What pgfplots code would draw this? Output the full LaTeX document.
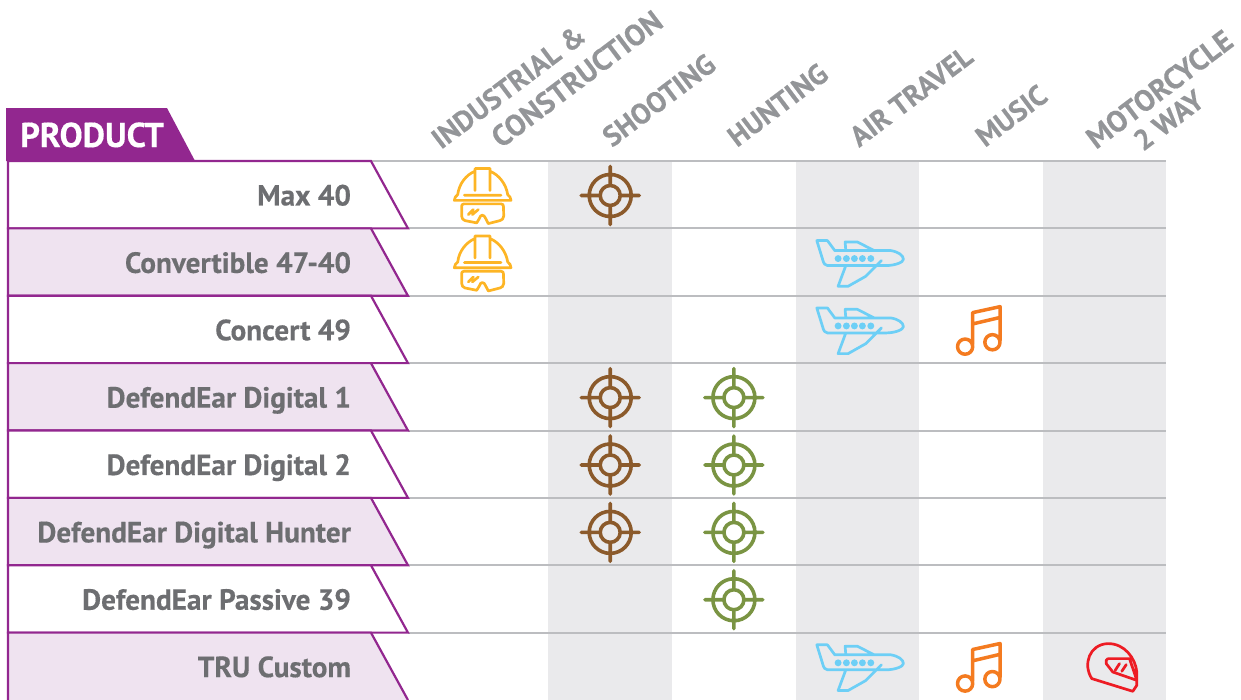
\documentclass[border=0pt]{standalone}
\usepackage{pgfplots}
\pgfplotsset{compat=1.18}
\usepackage{fontspec}
\setmainfont[BoldFeatures={FakeBold=0.35}]{PT Sans}
\definecolor{purp}{HTML}{92278F}
\definecolor{lilac}{HTML}{EFE3F0}
\definecolor{band}{HTML}{EAEAEC}
\definecolor{rowtext}{HTML}{6D6E71}
\definecolor{coltext}{HTML}{939598}
\definecolor{rule}{HTML}{BCBDC0}
\definecolor{hat}{HTML}{FDB525}
\definecolor{brown}{HTML}{8B5A2B}
\definecolor{olive}{HTML}{7A9443}
\definecolor{sky}{HTML}{6DCFF6}
\definecolor{orng}{HTML}{F47B20}
\definecolor{redh}{HTML}{ED1C24}
\pgfdeclareplotmark{target}{%
  \draw[x=1pt,y=-1pt,line cap=round] (0.5,0.8) circle[radius=21pt] (0.5,0.8) circle[radius=10pt]
    (-28.5,0.8)--(-9.5,0.8) (10.5,0.8)--(29.5,0.8) (0.5,-28.2)--(0.5,-9.2) (0.5,10.8)--(0.5,29.8);}
\pgfdeclareplotmark{hardhat}{%
  \draw[x=1pt,y=-1pt,line cap=round,line join=round]
    (-31.7,5.7) .. controls (-31.7,3.2) and (-30,1.2) .. (-28.3,-0.1)
      .. controls (-27,-10.8) and (-20,-19.8) .. (-11,-23.5) -- (-11,-26.1) -- (4,-26.1) -- (4,-23.5)
      .. controls (13,-19.8) and (20,-10.8) .. (21.7,-0.1)
      .. controls (23.5,1.2) and (25,3.2) .. (25,5.7) -- cycle
    (-11,-23.5) -- (-11,-4.1) (4,-23.5) -- (4,-4.1) (-21.7,0.5) -- (15,0.5)
    (-22,9.2) -- (15,9.2) .. controls (17,9.2) and (17.5,10.2) .. (17.5,12.2) -- (17.7,21.5)
      .. controls (17.5,24.2) and (16,25.2) .. (14,25.9) -- (2.3,28.9) -- (-0.3,23.9)
      .. controls (-1,21.7) and (-2.5,20.5) .. (-3.7,20.5)
      .. controls (-5,20.5) and (-6,21.7) .. (-6.7,23.9) -- (-9.3,28.2) -- (-21,25.9)
      .. controls (-23,25.2) and (-24.3,23.7) .. (-24.3,21.5) -- (-24.3,11.2)
      .. controls (-24.3,10.2) and (-23.5,9.2) .. (-22,9.2) -- cycle
    (-17.7,19.9) -- (-12.7,14.9) (-13.7,19.9) -- (-7.7,14.9);}
\pgfdeclareplotmark{plane}{%
  \draw[x=1pt,y=-1pt,line cap=round,line join=round]
    (-40.3,-21.5) -- (-29.7,-21.5) -- (-22.3,-11.5) -- (33.7,-11.5)
      .. controls (41,-10.3) and (46.3,-6.8) .. (46.3,-2.8)
      .. controls (46.3,0.2) and (38,3.5) .. (28.7,3.5) -- (-29.7,3.5)
      .. controls (-32,3.2) and (-33.5,1.2) .. (-33.7,-0.1) -- cycle
    (-11.3,-11.5) -- (-12,-20.1) -- (0.3,-20.1) -- (17,-11.5)
    (-11.3,3.5) -- (-19,24.2) -- (-9,24.2) -- (8.7,14.2) -- (24.3,-1.5);
  \fill[x=1pt,y=-1pt] (-19,-3.5) circle[radius=2pt] (-10.7,-3.5) circle[radius=2pt]
    (-2.7,-3.5) circle[radius=2pt] (5.3,-3.5) circle[radius=2pt] (13.7,-3.5) circle[radius=2pt];}
\pgfdeclareplotmark{note}{%
  \draw[x=1pt,y=-1pt,line cap=round,line join=round]
    (-15.7,17.2) circle[radius=7.6pt] (11.6,12.8) circle[radius=7.6pt]
    (-8.2,15) -- (-8.2,-16.8) -- (19.3,-22.8) -- (19.3,11)
    (-8.2,-5.5) -- (19.3,-12);}
\pgfdeclareplotmark{moto}{%
  \draw[x=1pt,y=-1pt,line cap=round,line join=round]
    (-12.7,12.3) .. controls (-22,-2) and (-15,-22) .. (3.3,-22.7)
      .. controls (20,-23) and (31,-8) .. (32.3,5.7) -- (32.3,19) -- (28.3,25) -- cycle
    (3.5,-7.7) -- (25,-7.7) -- (32.3,14) -- (8.3,5.7) -- (1.7,-2.7)
      .. controls (1.2,-5) and (1.7,-7.7) .. (3.5,-7.7)
    (10.7,4) -- (15,-2.7) (17.3,5) -- (21.7,-1.7);}
\pgfplotstableread{
col row
0 1
0 2
}\hardhatdata
\pgfplotstableread{
col row
1 1
1 4
1 5
1 6
}\shootdata
\pgfplotstableread{
col row
2 4
2 5
2 6
2 7
}\huntdata
\pgfplotstableread{
col row
3 2
3 3
3 8
}\airdata
\pgfplotstableread{
col row
4 3
4 8
}\musicdata
\pgfplotstableread{
col row
5 8
}\motodata
\newcommand\collabel[4][28.7]{\node[rotate=37,anchor=base west,text=coltext,inner sep=0pt,
  font=\fontsize{#1}{30}\selectfont\bfseries] at (axis cs:{(#2-486)/123.7},{(#3-161)/67.375+0.5}) {#4};}
\begin{document}
\begin{tikzpicture}
\useasboundingbox (0,0) rectangle (1241pt,700pt);
\begin{axis}[
  at={(424.15pt,0pt)}, anchor=south west,
  scale only axis, width=742.2pt, height=539pt,
  xmin=-0.5, xmax=5.5, ymin=0.5, ymax=8.5, y dir=reverse,
  clip=false, axis on top=true,
  axis line style={draw=none}, tick style={draw=none},
  xtick=\empty,
  ytick={1,...,8},
  yticklabels={Max 40,Convertible 47-40,Concert 49,DefendEar Digital 1,DefendEar Digital 2,DefendEar Digital Hunter,DefendEar Passive 39,TRU Custom},
  yticklabel style={anchor=base east,inner sep=0pt,xshift=-73pt,yshift=-10.8pt,text=rowtext,
    font=\fontsize{29.2}{32}\selectfont\bfseries},
]
% column bands
\addplot[fill=band,draw=none] coordinates {(0.5,0.5)(1.5,0.5)(1.5,8.5)(0.5,8.5)} --cycle;
\addplot[fill=band,draw=none] coordinates {(2.51,0.5)(3.5,0.5)(3.5,8.5)(2.51,8.5)} --cycle;
\addplot[fill=band,draw=none] coordinates {(4.5,0.5)(5.5,0.5)(5.5,8.5)(4.5,8.5)} --cycle;
% row rules
\addplot[rule,line width=2pt] coordinates {(-0.93,0.5)(5.5,0.5)};
\addplot[rule,line width=2pt] coordinates {(-0.631,1.5)(5.5,1.5)};
\addplot[rule,line width=2pt] coordinates {(-0.631,2.5)(5.5,2.5)};
\addplot[rule,line width=2pt] coordinates {(-0.631,3.5)(5.5,3.5)};
\addplot[rule,line width=2pt] coordinates {(-0.631,4.5)(5.5,4.5)};
\addplot[rule,line width=2pt] coordinates {(-0.631,5.5)(5.5,5.5)};
\addplot[rule,line width=2pt] coordinates {(-0.631,6.5)(5.5,6.5)};
\addplot[rule,line width=2pt] coordinates {(-0.631,7.5)(5.5,7.5)};
% header tab
\addplot[fill=purp,draw=none] coordinates {(-3.88,-0.2866)(-2.579,-0.2866)(-2.352,0.5)(-3.88,0.5)} --cycle;
% row tabs
\addplot[fill=white,draw=purp,line width=2.2pt] coordinates {(-3.864,0.5)(-0.93,0.5)(-0.631,1.5)(-3.864,1.5)} --cycle;
\addplot[fill=lilac,draw=purp,line width=2.2pt] coordinates {(-3.864,1.5)(-0.93,1.5)(-0.631,2.5)(-3.864,2.5)} --cycle;
\addplot[fill=white,draw=purp,line width=2.2pt] coordinates {(-3.864,2.5)(-0.93,2.5)(-0.631,3.5)(-3.864,3.5)} --cycle;
\addplot[fill=lilac,draw=purp,line width=2.2pt] coordinates {(-3.864,3.5)(-0.93,3.5)(-0.631,4.5)(-3.864,4.5)} --cycle;
\addplot[fill=white,draw=purp,line width=2.2pt] coordinates {(-3.864,4.5)(-0.93,4.5)(-0.631,5.5)(-3.864,5.5)} --cycle;
\addplot[fill=lilac,draw=purp,line width=2.2pt] coordinates {(-3.864,5.5)(-0.93,5.5)(-0.631,6.5)(-3.864,6.5)} --cycle;
\addplot[fill=white,draw=purp,line width=2.2pt] coordinates {(-3.864,6.5)(-0.93,6.5)(-0.631,7.5)(-3.864,7.5)} --cycle;
\addplot[fill=lilac,draw=none] coordinates {(-3.864,7.5)(-0.93,7.5)(-0.631,8.5)(-3.864,8.5)} --cycle;
\addplot[purp,line width=2.2pt] coordinates {(-3.864,8.5)(-3.864,7.5)(-0.93,7.5)(-0.631,8.5)};
% icons
\addplot[only marks,mark=hardhat,mark options={color=hat,line width=2.7pt}] table[x=col,y=row] {\hardhatdata};
\addplot[only marks,mark=target,mark options={color=brown,line width=3.6pt}] table[x=col,y=row] {\shootdata};
\addplot[only marks,mark=target,mark options={color=olive,line width=3.6pt}] table[x=col,y=row] {\huntdata};
\addplot[only marks,mark=plane,mark options={color=sky,line width=2.7pt}] table[x=col,y=row] {\airdata};
\addplot[only marks,mark=note,mark options={color=orng,line width=3.5pt}] table[x=col,y=row] {\musicdata};
\addplot[only marks,mark=moto,mark options={color=redh,line width=2.7pt}] table[x=col,y=row] {\motodata};
% text
\node[anchor=base west,inner sep=0pt,text=white,font=\fontsize{34.5}{38}\selectfont\bfseries]
  at (axis cs:{(20-486)/123.7},{(147-161)/67.375+0.5}) {PRODUCT};
\collabel{441}{150}{INDUSTRIAL \&}
\collabel[29.8]{501}{149}{CONSTRUCTION}
\collabel{612}{148}{SHOOTING}
\collabel{737}{148}{HUNTING}
\collabel{859}{148}{AIR TRAVEL}
\collabel{985}{148}{MUSIC}
\collabel[29.8]{1096}{150}{MOTORCYCLE}
\collabel{1143}{152}{2 WAY}
\end{axis}
\end{tikzpicture}
\end{document}
